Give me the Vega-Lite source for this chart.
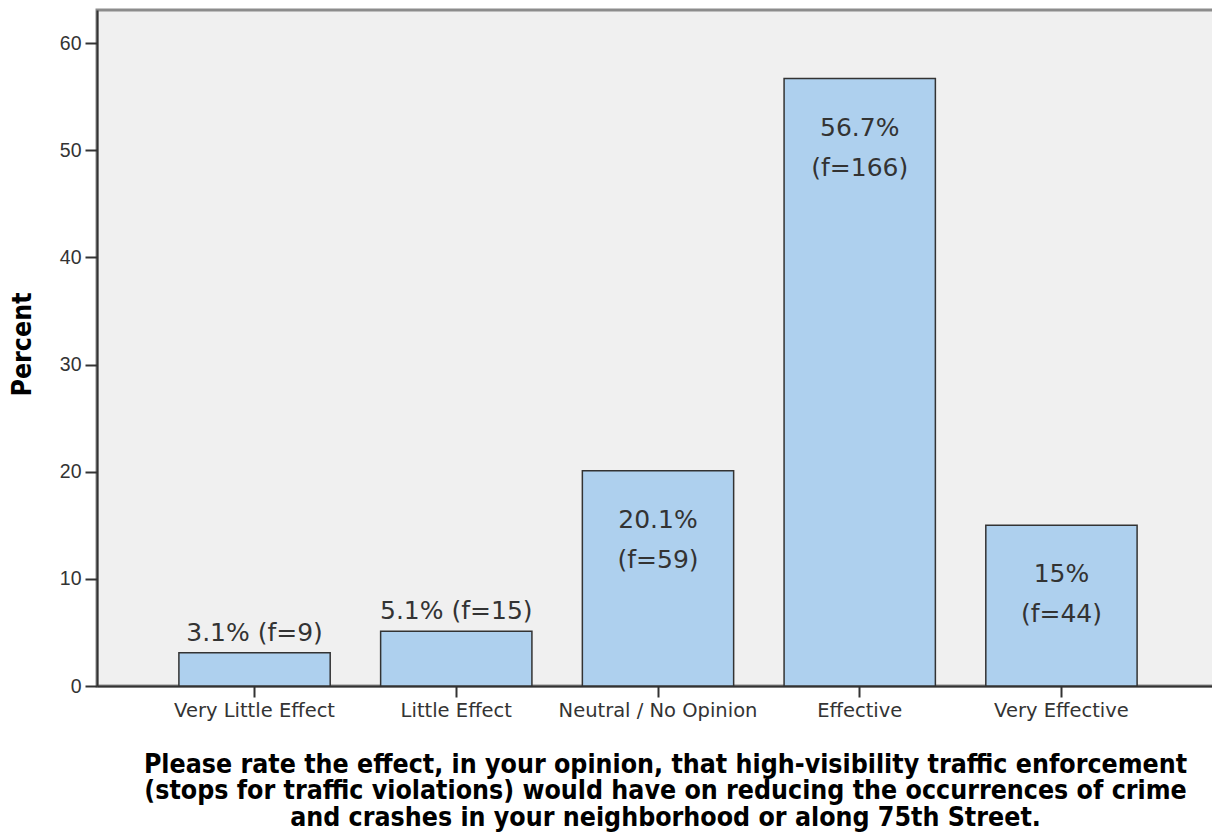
{
  "$schema": "https://vega.github.io/schema/vega-lite/v6.json",
  "autosize": "none",
  "padding": {"left": 97, "top": 10, "right": 0, "bottom": 150},
  "width": 1122,
  "height": 676,
  "background": "white",
  "config": {
    "view": {"fill": "#f0f0f0", "stroke": "#8c8c8c", "strokeWidth": 3},
    "axis": {"grid": false}
  },
  "data": {
    "values": [
      {"category": "Very Little Effect", "pct": 3.1, "label": "3.1% (f=9)", "inside": false},
      {"category": "Little Effect", "pct": 5.1, "label": "5.1% (f=15)", "inside": false},
      {"category": "Neutral / No Opinion", "pct": 20.1, "label": "20.1%\n(f=59)", "inside": true},
      {"category": "Effective", "pct": 56.7, "label": "56.7%\n(f=166)", "inside": true},
      {"category": "Very Effective", "pct": 15.0, "label": "15%\n(f=44)", "inside": true}
    ]
  },
  "encoding": {
    "x": {
      "field": "category",
      "type": "nominal",
      "sort": null,
      "scale": {"paddingInner": 0.25, "paddingOuter": 0.406},
      "axis": {
        "title": [
          "Please rate the effect, in your opinion, that high-visibility traffic enforcement",
          "(stops for traffic violations) would have on reducing the occurrences of crime",
          "and crashes in your neighborhood or along 75th Street."
        ],
        "titleFont": "DejaVu Sans Condensed, DejaVu Sans",
        "titleFontWeight": "bold",
        "titleFontSize": 26.5,
        "titleLineHeight": 26.5,
        "titleColor": "#000000",
        "titleX": 568,
        "titleY": 86,
        "titleAlign": "center",
        "titleBaseline": "alphabetic",
        "labelAngle": 0,
        "labelFont": "DejaVu Sans",
        "labelFontSize": 19.5,
        "labelColor": "#333333",
        "labelPadding": 4,
        "labelBaseline": "top",
        "labelLimit": 400,
        "domainColor": "#333333",
        "domainWidth": 2,
        "tickColor": "#333333",
        "tickWidth": 2,
        "tickSize": 11
      }
    }
  },
  "layer": [
    {
      "mark": {"type": "bar", "fill": "#aed0ee", "stroke": "#333333", "strokeWidth": 1.5},
      "encoding": {
        "y": {
          "field": "pct",
          "type": "quantitative",
          "scale": {"domain": [0, 63.1], "nice": false},
          "axis": {
            "title": "Percent",
            "titleFont": "DejaVu Sans Condensed, DejaVu Sans",
            "titleFontWeight": "bold",
            "titleFontSize": 26.5,
            "titleColor": "#000000",
            "titleAngle": -90,
            "titleX": -67,
            "titleY": 334,
            "titleAlign": "center",
            "titleBaseline": "alphabetic",
            "values": [0, 10, 20, 30, 40, 50, 60],
            "labelFont": "Liberation Sans",
            "labelFontSize": 19.5,
            "labelColor": "#333333",
            "labelPadding": 4,
            "domainColor": "#333333",
            "domainWidth": 2,
            "tickColor": "#333333",
            "tickWidth": 2,
            "tickSize": 12
          }
        }
      }
    },
    {
      "transform": [{"filter": "datum.inside"}],
      "mark": {"type": "text", "font": "DejaVu Sans", "fontSize": 25, "fill": "#333333", "baseline": "alphabetic", "align": "center", "dy": 57, "lineBreak": "\n", "lineHeight": 40},
      "encoding": {
        "y": {"field": "pct", "type": "quantitative"},
        "text": {"field": "label"}
      }
    },
    {
      "transform": [{"filter": "!datum.inside"}],
      "mark": {"type": "text", "font": "DejaVu Sans", "fontSize": 25, "fill": "#333333", "baseline": "alphabetic", "align": "center", "dy": -12},
      "encoding": {
        "y": {"field": "pct", "type": "quantitative"},
        "text": {"field": "label"}
      }
    }
  ]
}
